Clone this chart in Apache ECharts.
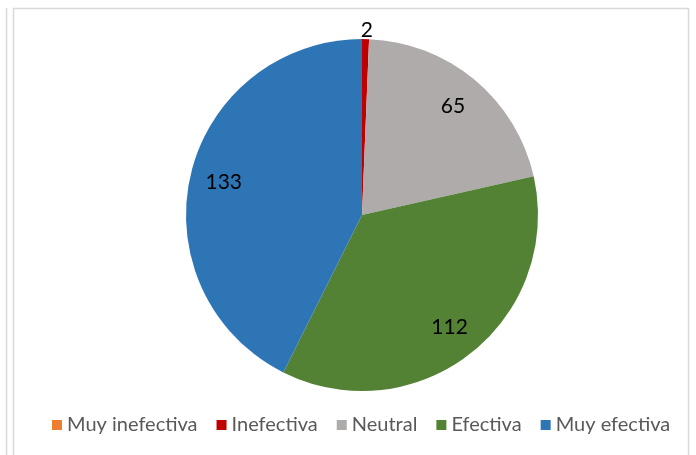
<!DOCTYPE html>
<html>
<head>
<meta charset="utf-8">
<script src="https://cdn.jsdelivr.net/npm/echarts@6/dist/echarts.min.js"></script>
<style>
  html, body { margin: 0; padding: 0; background: #fff; }
  #grafico { width: 696px; height: 455px; }
</style>
</head>
<body>
<div id="grafico"></div>
<script>
// categorias y valores
var categorias = ['Muy inefectiva', 'Inefectiva', 'Neutral', 'Efectiva', 'Muy efectiva'];
var valores = [0, 2, 65, 112, 133];
var colores = ['#ED7D31', '#C00000', '#AFABAB', '#548235', '#2E75B6'];

var chart = echarts.init(document.getElementById('grafico'));

var fuente = 'Lato, "Open Sans", sans-serif';
var centro = [362, 215];
var radio = 176;

// pie visible: solo la etiqueta del valor pequeño va afuera
var datosPie = categorias.map(function (c, i) {
    var chico = valores[i] > 0 && valores[i] < 10;
    return {
        name: c,
        value: valores[i],
        label: { show: chico }
    };
});

// anillo transparente para las etiquetas interiores
var datosEtiquetas = categorias.map(function (c, i) {
    return {
        name: c,
        value: valores[i],
        label: { show: valores[i] >= 10 }
    };
});

var option = {
    animation: false,
    color: colores,
    legend: {
        data: categorias,
        bottom: 15,
        left: 47,
        icon: 'rect',
        itemWidth: 10,
        itemHeight: 10,
        itemGap: 19,
        textStyle: { fontFamily: fuente, fontSize: 20, color: '#595959' }
    },
    graphic: [
        { type: 'rect', shape: { x: 13.5, y: 8.5, width: 675, height: 460 }, style: { fill: 'none', stroke: '#d9d9d9', lineWidth: 1.5 }, silent: true },
        { type: 'line', shape: { x1: 6.5, y1: 8, x2: 6.5, y2: 455 }, style: { stroke: '#d9d9d9', lineWidth: 1.5 }, silent: true }
    ],
    series: [
        {
            name: 'Pie',
            type: 'pie',
            center: centro,
            radius: radio,
            startAngle: 90,
            avoidLabelOverlap: false,
            stillShowZeroSum: false,
            label: {
                position: 'outside',
                distanceToLabelLine: -5,
                fontFamily: fuente,
                fontSize: 21,
                color: '#000',
                formatter: '{c}'
            },
            labelLine: { show: false, length: 9, length2: 0 },
            itemStyle: { borderWidth: 0 },
            data: datosPie
        },
        {
            name: 'Etiquetas',
            type: 'pie',
            center: centro,
            radius: [radio * 0.58, radio],
            startAngle: 90,
            silent: true,
            legendHoverLink: false,
            itemStyle: { color: 'transparent', borderWidth: 0 },
            label: {
                position: 'inside',
                fontFamily: fuente,
                fontSize: 21,
                color: '#000',
                formatter: '{c}'
            },
            labelLine: { show: false },
            data: datosEtiquetas
        }
    ]
};

chart.setOption(option);
</script>
</body>
</html>
